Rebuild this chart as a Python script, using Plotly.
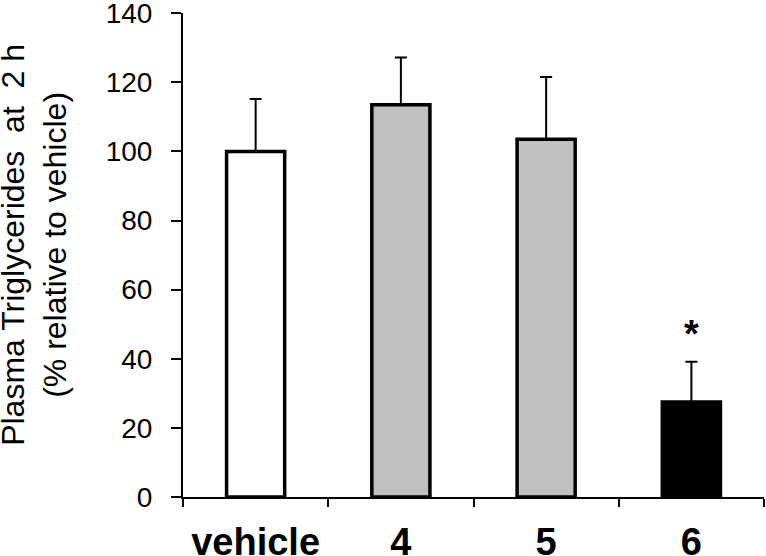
import plotly.graph_objects as go

categories = ["vehicle", "4", "5", "6"]
values = [100, 113.5, 103.5, 27.5]
errors_plus = [15.2, 13.7, 18.0, 11.6]
bar_colors = ["#ffffff", "#c0c0c0", "#c0c0c0", "#000000"]
y_ticks = [0, 20, 40, 60, 80, 100, 120, 140]
star_label = "*"
star_index = 3
star_value = 47.3
y_title = "Plasma Triglycerides  at  2 h<br>(% relative to vehicle)"

FONT = "Arial, Liberation Sans, sans-serif"

fig = go.Figure()
fig.add_trace(go.Bar(
    x=categories, y=values,
    marker=dict(color=bar_colors, line=dict(color="black", width=3.5)),
    width=0.4,
    error_y=dict(type="data", array=errors_plus, arrayminus=[0]*4, symmetric=False,
                 color="black", thickness=2, width=6),
    showlegend=False,
    hoverinfo="skip",
))
fig.add_annotation(x=star_index, y=star_value, text=star_label, showarrow=False,
                   font=dict(family=FONT, size=38, color="black", weight="bold"),
                   xref="x", yref="y", yanchor="middle")
fig.add_annotation(x=-0.2564, y=0.521, xref="paper", yref="paper", text=y_title,
                   textangle=-90, showarrow=False, xanchor="center", yanchor="middle",
                   font=dict(family=FONT, size=32, color="black"))

fig.update_layout(
    width=766, height=556,
    margin=dict(l=183, r=2, t=13, b=59, autoexpand=False),
    plot_bgcolor="white", paper_bgcolor="white",
    font=dict(family=FONT, color="black"),
)
fig.update_yaxes(
    range=[0, 140.05], tickvals=y_ticks, showgrid=False, zeroline=False,
    showline=True, linecolor="black", linewidth=2, automargin=False,
    ticks="outside", ticklen=10, tickwidth=2, tickcolor="black",
    ticklabelstandoff=13, ticklabeloverflow="allow",
    tickfont=dict(size=28, family=FONT, color="black"),
)
fig.update_xaxes(
    type="category", tickangle=0, range=[-0.5, 3.5],
    showgrid=False, showline=True, linecolor="black", linewidth=2, automargin=False,
    ticks="outside", ticklen=8, tickwidth=2, tickcolor="black",
    tickson="boundaries", ticklabelstandoff=10, ticklabeloverflow="allow",
    tickfont=dict(size=38, family=FONT, color="black", weight="bold"),
)

fig.write_html("out.html", config={"displayModeBar": False},
               post_script="document.body.style.margin='0';")
